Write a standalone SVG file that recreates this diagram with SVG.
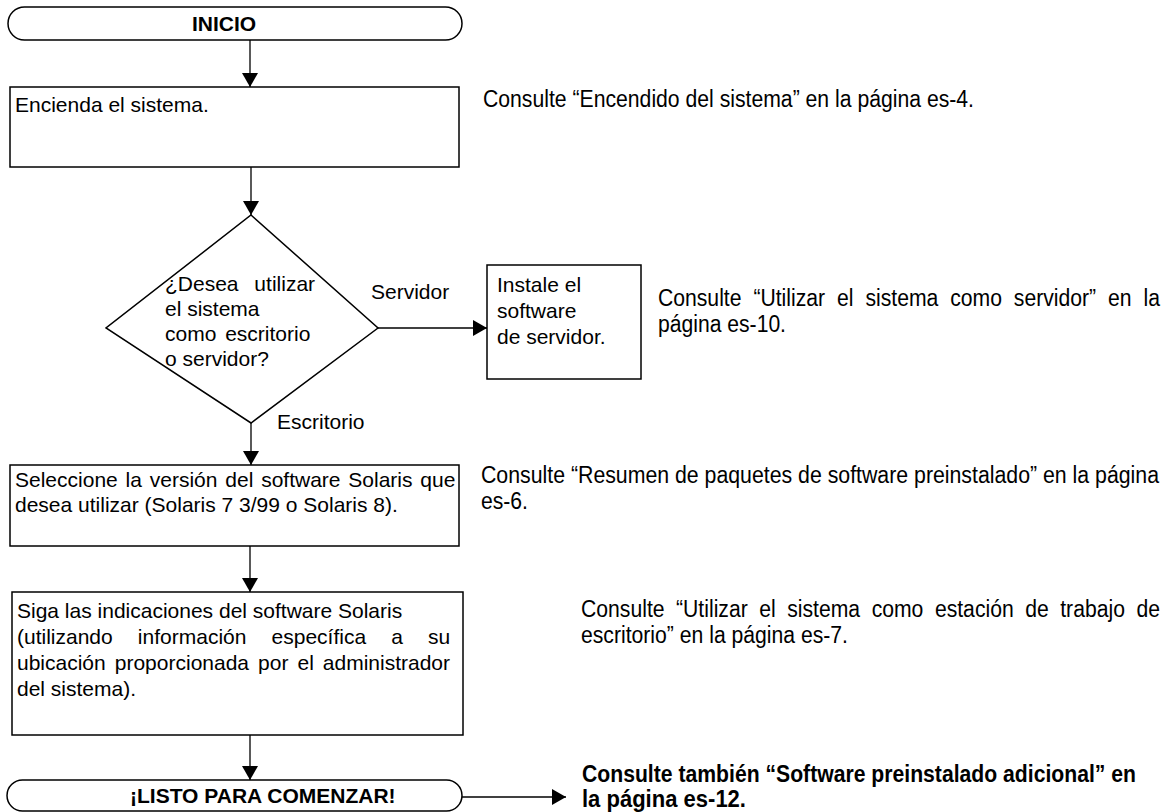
<svg xmlns="http://www.w3.org/2000/svg" width="1168" height="812" viewBox="0 0 1168 812">
<defs>
<style>
text{font-family:"Liberation Sans",Arial,sans-serif;font-size:21px;fill:#000}
.b{font-weight:bold}
.n{font-size:23px}
.shape{fill:#fff;stroke:#000;stroke-width:1.5}
.conn{fill:none;stroke:#000;stroke-width:1.3}
</style>
<marker id="ah" viewBox="0 0 14 16" refX="14" refY="8" markerWidth="14" markerHeight="16" markerUnits="userSpaceOnUse" orient="auto">
<path d="M0,0 L14,8 L0,16 z" fill="#000"/>
</marker>
</defs>
<rect width="1168" height="812" fill="#fff"/>
<g id="connectors">
<path class="conn" d="M250,40 V87" marker-end="url(#ah)"/>
<path class="conn" d="M251,167 V215" marker-end="url(#ah)"/>
<path class="conn" d="M378,328 H487" marker-end="url(#ah)"/>
<path class="conn" d="M251,423 V465" marker-end="url(#ah)"/>
<path class="conn" d="M250,546 V592" marker-end="url(#ah)"/>
<path class="conn" d="M250,735 V780" marker-end="url(#ah)"/>
<path class="conn" d="M462,797 H566" marker-end="url(#ah)"/>
<text x="371" y="299">Servidor</text>
<text x="277" y="429">Escritorio</text>
</g>
<g id="inicio">
<rect class="shape" x="8" y="7" width="454" height="33" rx="16.5"/>
<text class="b" x="224" y="31" text-anchor="middle">INICIO</text>
</g>
<g id="encienda">
<rect class="shape" x="10" y="87" width="449" height="80"/>
<text x="15" y="112">Encienda el sistema.</text>
</g>
<g id="decision">
<path class="shape" d="M251,215 L378,328 L251,423 L106,328 Z"/>
<text x="165" y="291" word-spacing="10">¿Desea utilizar</text>
<text x="165" y="316">el sistema</text>
<text x="165" y="341" word-spacing="3">como escritorio</text>
<text x="165" y="366">o servidor?</text>
</g>
<g id="servidor">
<rect class="shape" x="487" y="265" width="154" height="114"/>
<text x="497" y="292">Instale el</text>
<text x="497" y="318">software</text>
<text x="497" y="344">de servidor.</text>
</g>
<g id="seleccione">
<rect class="shape" x="10" y="465" width="449" height="81"/>
<text x="15" y="487" word-spacing="2">Seleccione la versión del software Solaris que</text>
<text x="15" y="512">desea utilizar (Solaris 7 3/99 o Solaris 8).</text>
</g>
<g id="siga">
<rect class="shape" x="12" y="592" width="451" height="143"/>
<text x="17" y="618">Siga las indicaciones del software Solaris</text>
<text x="17" y="644" word-spacing="19.3">(utilizando información específica a su</text>
<text x="17" y="670" word-spacing="3.2">ubicación proporcionada por el administrador</text>
<text x="17" y="696">del sistema).</text>
</g>
<g id="listo">
<rect class="shape" x="7" y="780" width="455" height="31" rx="15.5"/>
<text class="b" x="130" y="803">¡LISTO PARA COMENZAR!</text>
</g>
<g id="notes">
<text class="n" x="483" y="107" textLength="491" lengthAdjust="spacingAndGlyphs">Consulte “Encendido del sistema” en la página es-4.</text>
<text class="n" x="658" y="306" word-spacing="6.6" textLength="502" lengthAdjust="spacingAndGlyphs">Consulte “Utilizar el sistema como servidor” en la</text>
<text class="n" x="658" y="332" textLength="128" lengthAdjust="spacingAndGlyphs">página es-10.</text>
<text class="n" x="481" y="483" textLength="678" lengthAdjust="spacingAndGlyphs">Consulte “Resumen de paquetes de software preinstalado” en la página</text>
<text class="n" x="481" y="509" textLength="47" lengthAdjust="spacingAndGlyphs">es-6.</text>
<text class="n" x="581" y="617" word-spacing="6.1" textLength="579" lengthAdjust="spacingAndGlyphs">Consulte “Utilizar el sistema como estación de trabajo de</text>
<text class="n" x="581" y="643" textLength="267" lengthAdjust="spacingAndGlyphs">escritorio” en la página es-7.</text>
<text class="n b" x="582" y="782" textLength="554" lengthAdjust="spacingAndGlyphs">Consulte también “Software preinstalado adicional” en</text>
<text class="n b" x="582" y="807" textLength="164" lengthAdjust="spacingAndGlyphs">la página es-12.</text>
</g>
</svg>
